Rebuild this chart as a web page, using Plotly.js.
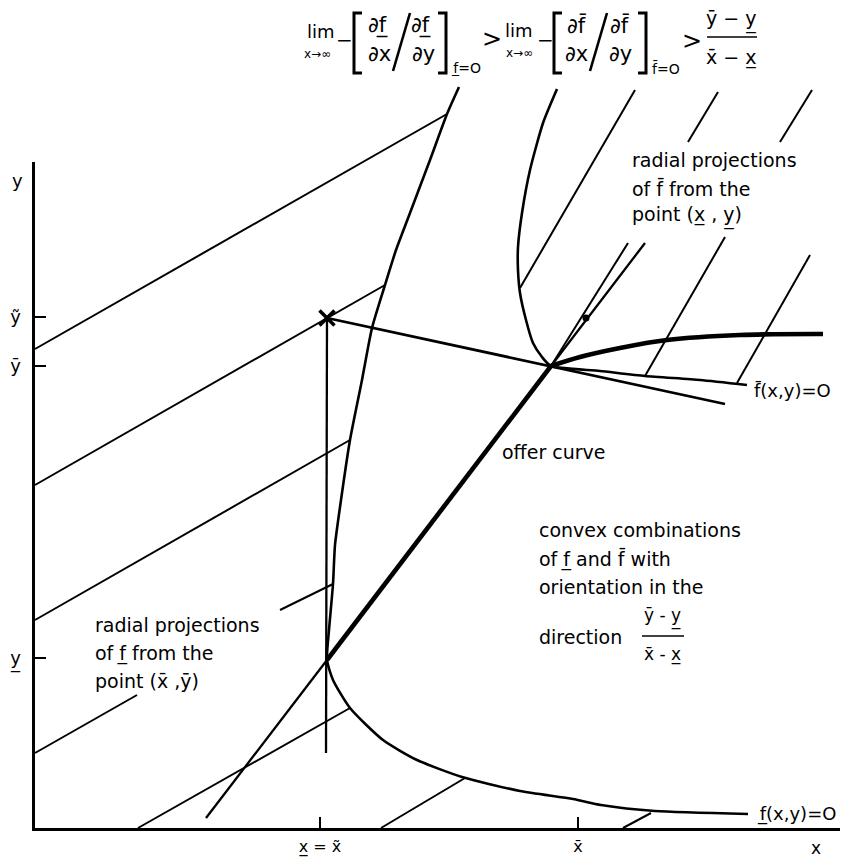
<!DOCTYPE html>
<html><head><meta charset="utf-8">
<script src="https://cdn.plot.ly/plotly-3.0.1.min.js"></script>
<style>html,body{margin:0;padding:0;background:#fff}#chart{width:853px;height:861px}</style>
</head><body><div id="chart"></div>
<script>
// ---- data (chart units: origin at the axes corner, x right, y up) ----
const fLowX = [424,412,395,375,361,350,337,327,315,306,300,298,294,292,298,315,348,382,427,485,538,566,620,713];
const fLowY = [741,714,668,615,578,543,500,448,388,328,283,244,198,168,148,120,88,68,51,37,29,23,17,14];
const fBarX = [522,508,495,487,483,483,485,491,498,507,516,565,610,665,712];
const fBarY = [739,705,658,615,581,558,535,508,485,471,462,457,452,448,443];
const offerX = [292,516];
const offerY = [168,462];
const offerRightX = [516,545,585,632,705,788];
const offerRightY = [462,471,480,488,493,494];
const offerExtX = [171,292,null,516,610];
const offerExtY = [10,168,null,462,585];
const verticalX = [291,292];
const verticalY = [75,510];
const tangentX = [292,516,690];
const tangentY = [510,462,424];
const crossX = [292], crossY = [510];
const dotX = [551], dotY = [510];
// radial projections of f (lower) from (x-bar, y-bar): segments x0,y0,x1,y1
const radialLow = [[0,479,412,714],[0,343,350,543],[0,208,315,388],[0,75,102,133],[245,218,298,244],[103,0,315,120],[346,0,430,50],[588,0,616,15]];
// radial projections of f-bar from (x, y): segments
const radialBar = [[485,540,600,738],[516,462,593,585],[653,686,683,736],[610,452,690,591],[745,686,777,738],[702,445,775,573]];
// axis ticks
const yTickVals = [511,462,170];
const yTickText = ['y\u0303','y\u0304','y\u0332'];
const xTickVals = [285,543];
const xTickText = ['x\u0332 = x\u0303','x\u0304'];

// ---- layout helpers ----
const W=853, H=861, OX=35, OY=828, XEND=840, YTOP=162;
const FONT='DejaVu Sans, sans-serif';
const cx = px => px-OX, cy = py => OY-py;

function segs(list){const x=[],y=[];list.forEach(s=>{x.push(s[0],s[2],null);y.push(s[1],s[3],null);});return {x,y};}
const rl=segs(radialLow), rb=segs(radialBar);
const base={type:'scatter',mode:'lines',hoverinfo:'skip',showlegend:false,xaxis:'x',yaxis:'y'};
const traces=[
 Object.assign({},base,{x:rl.x,y:rl.y,line:{color:'#000',width:2}}),
 Object.assign({},base,{x:rb.x,y:rb.y,line:{color:'#000',width:2}}),
 Object.assign({},base,{x:fLowX,y:fLowY,line:{color:'#000',width:2.6,shape:'spline',smoothing:0.6}}),
 Object.assign({},base,{x:fBarX,y:fBarY,line:{color:'#000',width:2.6,shape:'spline',smoothing:0.6}}),
 Object.assign({},base,{x:offerX,y:offerY,line:{color:'#000',width:4.6}}),
 Object.assign({},base,{x:offerRightX,y:offerRightY,line:{color:'#000',width:4.6,shape:'spline'}}),
 Object.assign({},base,{x:offerExtX,y:offerExtY,line:{color:'#000',width:2.3}}),
 Object.assign({},base,{x:verticalX,y:verticalY,line:{color:'#000',width:2.3}}),
 Object.assign({},base,{x:tangentX,y:tangentY,line:{color:'#000',width:2.8}}),
 Object.assign({},base,{x:crossX,y:crossY,mode:'markers',marker:{symbol:'x-thin',size:15,line:{color:'#000',width:3.5}}}),
 Object.assign({},base,{x:dotX,y:dotY,mode:'markers',marker:{symbol:'circle',size:7,color:'#000'}}),
 {type:'scatter',mode:'lines',x:[],y:[],xaxis:'x2',yaxis:'y2',showlegend:false,hoverinfo:'skip'}
];

// ---- text ----
const textLines=[
 ['radial projections',630,160],['of f\u0304 from the',630,188],['point (x\u0332 , y\u0332)',630,216],
 ['radial projections',93,625],['of f\u0332 from the',93,653],['point (x\u0304 ,y\u0304)',93,681],
 ['offer curve',500,452],
 ['convex combinations',537,530],['of f\u0332 and f\u0304 with',537,559],['orientation in the',537,587],['direction',537,637],
 ['f\u0304(x,y)=O',752,390],['f\u0332(x,y)=O',755,814]
];
const centerTexts=[
 ['y',17,180,18],['x',816,848,17],
 ['y\u0304 - y\u0332',662,617,17],['x\u0304 - x\u0332',662,654,17],
 ['lim',321,31,18],['x\u2192\u221e',317,54,12],['\u2212',344,40,20],
 ['\u2202f\u0332',378,25,21],['\u2202x',379,54,21],['\u2202f\u0332',421,25,21],['\u2202y',423,54,21],['f\u0332=O',466,68,14],
 ['>',492,39,24],
 ['lim',519,30,18],['x\u2192\u221e',519,53,12],['\u2212',545,40,20],
 ['\u2202f\u0304',576,25,21],['\u2202x',576,54,21],['\u2202f\u0304',619,25,21],['\u2202y',620,54,21],['f\u0304=O',666,68,14],
 ['>',692,41,24],
 ['y\u0304 \u2212 y\u0332',731,20,19],['x\u0304 \u2212 x\u0332',731,57,19]
];
const annotations=[];
textLines.forEach(t=>annotations.push({x:cx(t[1]),y:cy(t[2]),xref:'x',yref:'y',text:t[0],showarrow:false,xanchor:'left',yanchor:'middle',font:{family:FONT,size:t[0].indexOf('(x,y)')>=0?18:19,color:'#000'}}));
centerTexts.forEach(t=>annotations.push({x:cx(t[1]),y:cy(t[2]),xref:'x',yref:'y',text:t[0],showarrow:false,xanchor:'center',yanchor:'middle',font:{family:FONT,size:t[3],color:'#000'}}));

function pathPx(pts){return pts.map((p,i)=>(i?'L':'M')+cx(p[0])+','+cy(p[1])).join(' ');}
const decor=[
 {pts:[[362,13],[354,13],[354,73],[362,73]],w:3},
 {pts:[[438,13],[446,13],[446,73],[438,73]],w:3},
 {pts:[[562,13],[554,13],[554,73],[562,73]],w:3},
 {pts:[[638,13],[646,13],[646,73],[638,73]],w:3},
 {pts:[[410,13],[393,71]],w:2.6},
 {pts:[[607,13],[590,71]],w:2.6},
 {pts:[[707,37],[757,37]],w:1.5},
 {pts:[[642,636],[684,636]],w:1.3}
];
const shapes=decor.map(d=>({type:'path',xref:'x',yref:'y',path:pathPx(d.pts),line:{color:'#000',width:d.w}}));

const axCommon={showgrid:false,zeroline:false,showline:true,linecolor:'#000',linewidth:2.6,ticks:'inside',ticklen:11,tickwidth:2.4,tickcolor:'#000',tickmode:'array',fixedrange:true};
const layout={
 width:W,height:H,margin:{l:0,r:0,t:0,b:0},paper_bgcolor:'#fff',plot_bgcolor:'rgba(0,0,0,0)',
 showlegend:false,
 xaxis:{domain:[0,1],range:[-OX,W-OX],visible:false,fixedrange:true},
 yaxis:{domain:[0,1],range:[OY-H,OY],visible:false,fixedrange:true},
 xaxis2:Object.assign({},axCommon,{domain:[OX/W,XEND/W],range:[0,XEND-OX],anchor:'y2',tickvals:xTickVals,ticktext:xTickText,ticklabelstandoff:2,tickfont:{family:FONT,size:16,color:'#000'}}),
 yaxis2:Object.assign({},axCommon,{domain:[(H-OY)/H,(H-YTOP)/H],range:[0,OY-YTOP],anchor:'x2',tickvals:yTickVals,ticktext:yTickText,ticklabelstandoff:8,tickfont:{family:FONT,size:18,color:'#000'}}),
 annotations:annotations,shapes:shapes
};
Plotly.newPlot('chart',traces,layout,{staticPlot:true,displayModeBar:false});
</script></body></html>
